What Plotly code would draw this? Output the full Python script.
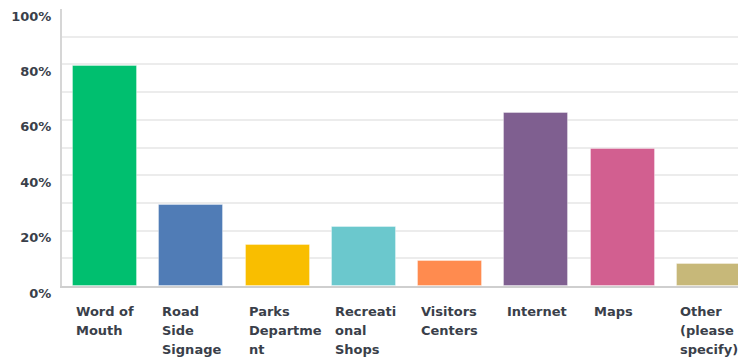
import plotly.graph_objects as go

categories = ["Word of Mouth", "Road Side Signage", "Parks Department", "Recreational Shops",
              "Visitors Centers", "Internet", "Maps", "Other (please specify)"]
label_lines = [["Word of", "Mouth"], ["Road", "Side", "Signage"], ["Parks", "Departme", "nt"],
               ["Recreati", "onal", "Shops"], ["Visitors", "Centers"], ["Internet"], ["Maps"],
               ["Other", "(please", "specify)"]]
values = [79.3, 29.4, 14.7, 21.3, 9.1, 62.3, 49.4, 7.9]
colors = ["#00BF6F", "#507CB6", "#F9BE00", "#6BC8CD", "#FF8B4F", "#7F5F90", "#D25F90", "#C7B879"]
y_ticks = [0, 20, 40, 60, 80, 100]
y_tick_labels = ["0%", "20%", "40%", "60%", "80%", "100%"]

BAR_W = 0.742
FONT = "DejaVu Sans"
TXT = "#3a3f4a"

x_idx = list(range(len(categories)))

fig = go.Figure()
fig.add_trace(go.Bar(
    x=x_idx, y=values, width=BAR_W,
    marker=dict(color=colors, line=dict(color="rgba(255,255,255,0.35)", width=1)),
    hovertext=categories, showlegend=False,
))

for i, lines in enumerate(label_lines):
    for j, line in enumerate(lines):
        fig.add_annotation(
            x=i - BAR_W / 2, xref="x", y=0, yref="paper",
            xanchor="left", yanchor="middle", xshift=3, yshift=-25.5 - 19 * j,
            text=line, showarrow=False, align="left", borderpad=0, borderwidth=0,
            font=dict(family=FONT, size=13, color=TXT, weight="bold"),
        )

fig.update_layout(
    width=738, height=354,
    margin=dict(l=54, r=0, t=1, b=76),
    plot_bgcolor="white", paper_bgcolor="white",
    bargap=0,
)
fig.update_xaxes(
    range=[-0.5, 7.43], showticklabels=False, showgrid=False, zeroline=False,
    showline=True, linecolor="#cfcfcf", linewidth=2, automargin=False,
)
fig.update_yaxes(
    range=[0, 100], tickvals=y_ticks, ticktext=y_tick_labels,
    showgrid=True, gridcolor="#ececec", gridwidth=1.5, zeroline=False,
    minor=dict(dtick=10, showgrid=True, gridcolor="#ececec", gridwidth=1.5, ticks=""),
    showline=True, linecolor="#d6d6d6", linewidth=2, automargin=False,
    ticks="", ticklabelstandoff=6, ticklabelshift=7, ticklabeloverflow="allow",
    tickfont=dict(family=FONT, size=13, color=TXT, weight="bold"),
)

fig.write_html("out.html")
